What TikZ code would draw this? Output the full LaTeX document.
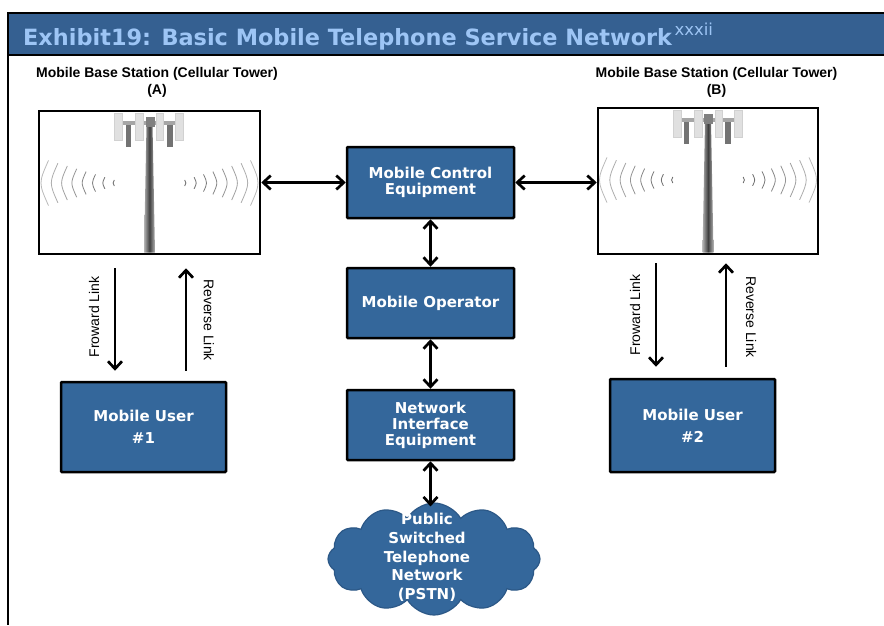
\documentclass[tikz,border=0pt]{standalone}
\usepackage{fontspec}
\setmainfont{Liberation Sans}
\newfontfamily\verd{DejaVu Sans}
\usetikzlibrary{arrows.meta,shapes.symbols,calc}
\definecolor{hdr}{RGB}{53,96,145}
\definecolor{ttl}{RGB}{157,197,245}
\definecolor{bx}{RGB}{52,103,155}
\definecolor{cloudedge}{RGB}{44,88,135}
\tikzset{
  pics/tower/.style={code={
    % radio waves
    \foreach \i in {0,...,7} {
      \pgfmathsetmacro\wx{36+\i*10}
      \pgfmathsetmacro\wh{3+\i*2.8}
      \pgfmathsetmacro\wb{0.8+\i*0.6}
      \pgfmathsetmacro\wg{62-\i*5}
      \draw[line width=0.8pt, black!\wg] (-\wx+\wb,72-\wh) .. controls (-\wx-\wb,72) .. (-\wx+\wb,72+\wh);
      \draw[line width=0.8pt, black!\wg] (\wx-\wb,72-\wh) .. controls (\wx+\wb,72) .. (\wx-\wb,72+\wh);
    }
    % pole
    \shade[left color=black!30, right color=black!30, middle color=black!75]
      (-3,14) -- (3,14) -- (5.5,#1-1.3) -- (-5.5,#1-1.3) -- cycle;
    % antenna frame
    \fill[black!35] (-27,10) rectangle (26,14);
    \fill[black!55] (-24,14) rectangle (-19,36);
    \fill[black!55] (17,14) rectangle (23,36);
    \fill[black!45] (-12,14) rectangle (-8,30);
    \fill[black!45] (8,14) rectangle (12,30);
    \fill[black!50] (-4,6) rectangle (5,16);
    % panels
    \foreach \a/\b in {-35/-27,-14/-6,7/14,26/34}
      \filldraw[fill=black!12, draw=black!18, line width=0.4pt] (\a,2) rectangle (\b,29);
  }}
}
\begin{document}
\begin{tikzpicture}[x=1pt,y=-1pt,
  bluebox/.style={draw=black, line width=2.5pt, fill=bx, rounded corners=1pt, text=white,
    font=\verd\bfseries\fontsize{15}{16.5}\selectfont, align=center, inner sep=0pt},
  towerbox/.style={draw=black, line width=2.5pt, fill=white, inner sep=0pt},
  dbl/.style={line width=2.7pt, {Straight Barb[length=7.5pt,width=14pt]}-{Straight Barb[length=7.5pt,width=14pt]}},
  sgl/.style={line width=2.7pt, -{Straight Barb[length=7.5pt,width=14pt]}},
  linklbl/.style={font=\fontsize{14}{16}\selectfont, inner sep=0pt},
  towerlbl/.style={font=\bfseries\fontsize{14}{17}\selectfont, align=center, inner sep=0pt},
]
\useasboundingbox (0,0) rectangle (884,625);
\fill[white] (0,0) rectangle (884,625);
% header
\fill[hdr] (8,13) rectangle (884,55);
\draw[line width=2pt] (884,13) -- (8,13) -- (8,625);
\draw[line width=1.5pt] (8,55) -- (884,55);
\node[anchor=base west, inner sep=0pt, text=ttl, font=\verd\bfseries\fontsize{22.4}{25}\selectfont] (title) at (23,45)
  {Exhibit19: Basic Mobile Telephone Service Network};
\node[anchor=base west, inner sep=0pt, text=ttl, font=\verd\fontsize{16.5}{18}\selectfont] (sup)
  at ([xshift=2pt,yshift=10pt]title.base east) {xxxii};

% tower labels
\node[towerlbl] (labA) at (157,82.5) {Mobile Base Station (Cellular Tower)\\(A)};
\node[towerlbl] (labB) at (716.5,82.5) {Mobile Base Station (Cellular Tower)\\(B)};

% towers
\node[towerbox, minimum width=221pt, minimum height=143pt] (towerA) at (149.5,182.5) {};
\pic at (149.5,111) {tower=143};
\node[towerbox, minimum width=220pt, minimum height=146pt] (towerB) at (708,181) {};
\pic at (708,108) {tower=146};
\node[towerbox, minimum width=221pt, minimum height=143pt, fill=none] at (149.5,182.5) {};
\node[towerbox, minimum width=220pt, minimum height=146pt, fill=none] at (708,181) {};

% central boxes
\node[bluebox, minimum width=167pt, minimum height=71pt] (mce) at (430.5,182.5) {Mobile Control\\Equipment};
\node[bluebox, minimum width=167pt, minimum height=70pt] (mo) at (430.5,303) {Mobile Operator};
\node[bluebox, minimum width=167pt, minimum height=70pt, font=\verd\bfseries\fontsize{15}{16}\selectfont] (nie) at (430.5,425) {Network\\Interface\\Equipment};

% users
\node[bluebox, minimum width=165pt, minimum height=90pt, font=\verd\bfseries\fontsize{15}{22}\selectfont] (user1) at (143.5,427) {Mobile User\\\#1};
\node[bluebox, minimum width=165pt, minimum height=93pt, font=\verd\bfseries\fontsize{15}{22}\selectfont] (user2) at (692.5,425.5) {Mobile User\\\#2};

% cloud
\node[cloud, cloud puffs=12, cloud puff arc=120, cloud ignores aspect, minimum width=212pt, minimum height=112pt,
  fill=bx, draw=cloudedge, line width=1.2pt, inner sep=0pt] (pstn) at (434,559) {};
\node[text=white, font=\verd\bfseries\fontsize{15}{18.7}\selectfont, align=center, inner sep=0pt] (pstntxt) at (427,557.5)
  {Public\\Switched\\Telephone\\Network\\(PSTN)};

% connectors
\draw[dbl] (towerA.east) -- (mce.west);
\draw[dbl] (mce.east) -- (mce.east -| towerB.west);
\draw[dbl] (mce.south) -- (mo.north);
\draw[dbl] (mo.south) -- (nie.north);
\draw[dbl] (nie.south) -- ($(nie.south |- pstn.north)+(0,4)$);

\draw[sgl] ($(towerA.south)+(-34.5,13)$) -- ($(user1.north)+(-28.5,-10)$);
\draw[sgl] ($(user1.north)+(42.5,-10)$) -- ($(towerA.south)+(36.5,13)$);
\draw[sgl] ($(towerB.south)+(-52,8)$) -- ($(user2.north)+(-36.5,-11)$);
\draw[sgl] ($(user2.north)+(33.5,-11)$) -- ($(towerB.south)+(18,8)$);

% link labels
\node[linklbl, rotate=90] (fA) at (94,317) {Froward Link};
\node[linklbl, rotate=-90] (rA) at (209,320) {Reverse Link};
\node[linklbl, rotate=90] (fB) at (635,315) {Froward Link};
\node[linklbl, rotate=-90] (rB) at (751,317) {Reverse Link};
\end{tikzpicture}
\end{document}
